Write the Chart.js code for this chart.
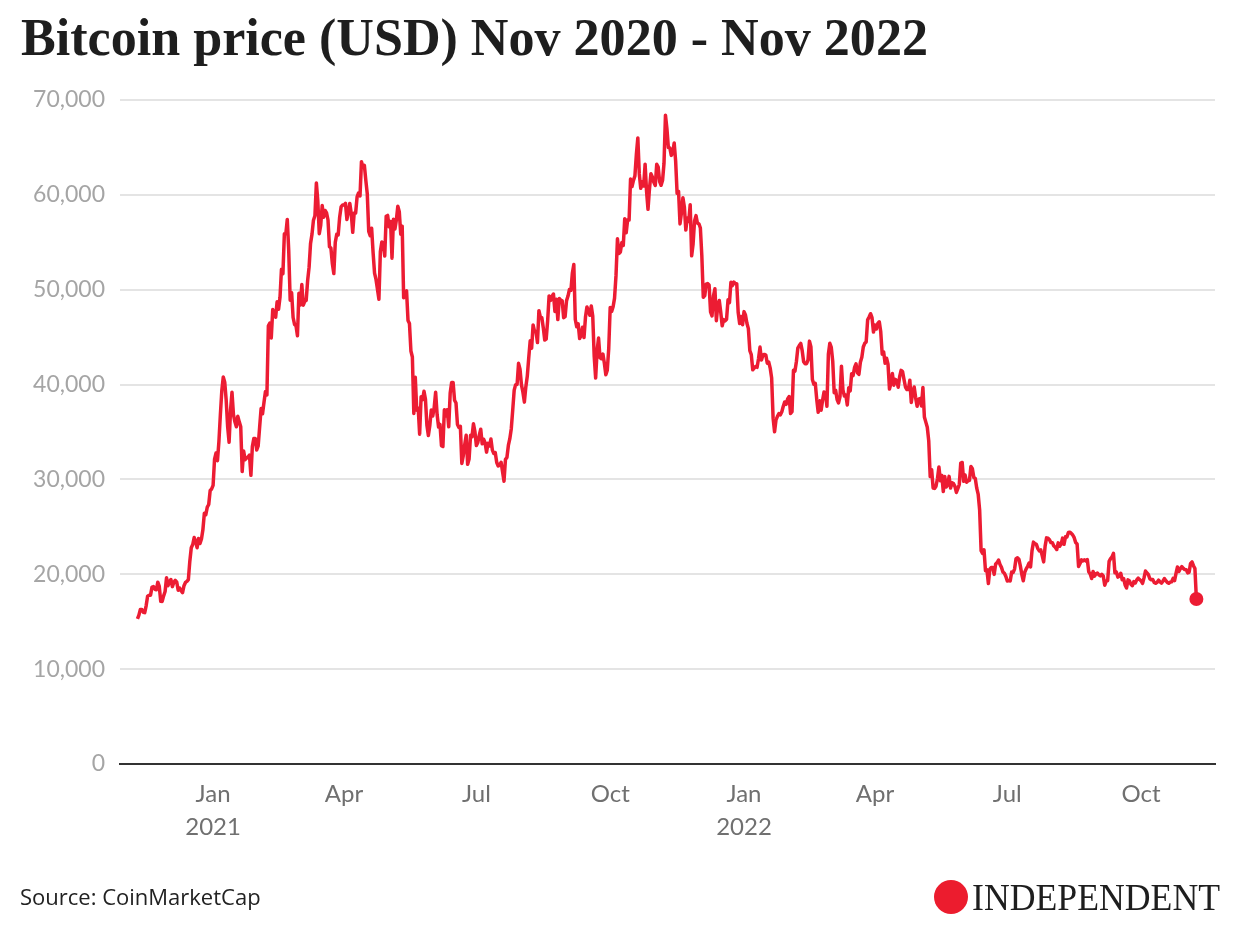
<!DOCTYPE html>
<html>
<head>
<meta charset="utf-8">
<script src="https://cdn.jsdelivr.net/npm/chart.js@4"></script>
<style>
  body { margin: 0; background: #fff; }
  #wrap { position: relative; width: 1240px; height: 940px; overflow: hidden; }
  #chart { position: absolute; left: 0; top: 0; }
  .title { position: absolute; left: 21px; top: 8px; font-family: "Liberation Serif", serif; font-weight: bold; font-size: 52px; color: #1e1e1e; white-space: nowrap; transform-origin: 0 0; }
  .source { position: absolute; left: 20px; top: 881px; font-family: "Open Sans", sans-serif; font-size: 22px; color: #222; }
  .logo { position: absolute; left: 934px; top: 879px; height: 36px; }
  .logo .dot { position: absolute; left: 0; top: 1px; width: 34px; height: 34px; border-radius: 50%; background: #ec1c2e; }
  .logo .word { position: absolute; left: 38px; top: -4px; font-family: "Liberation Serif", serif; font-size: 38px; color: #1e1e1e; white-space: nowrap; transform-origin: 0 0; }
</style>
</head>
<body>
<div id="wrap">
  <canvas id="chart" width="1240" height="940"></canvas>
  <div class="title" id="title">Bitcoin price (USD) Nov 2020 - Nov 2022</div>
  <div class="source">Source: CoinMarketCap</div>
  <div class="logo"><div class="dot"></div><div class="word" id="word">INDEPENDENT</div></div>
</div>
<script>
// daily prices, first value is 10 Nov 2020
const firstDay = -52; // days from 1 Jan 2021

const nov2020 = [15300,15700,16300,16300,16000,15950,16700,17700,17800,17800,18650,18700,18420,18370,19170,18720,17150,17140,17720,18180,19630];
const dec2020 = [18800,19210,19450,18700,19150,19360,19170,18320,18550,18260,18060,18800,19140,19250,19440,21380,22800,23140,23870,23480,22800,23780,23240,23730,24710,26440,26280,27080,27360,28840,29000];
const jan2021 = [29370,32130,32780,31970,33990,36820,39370,40800,40250,38360,35570,33920,37320,39190,36830,36070,35550,36650,36070,35550,30830,32990,32080,32260,32370,32570,30430,33470,34320,34320,33110];
const feb2021 = [33540,35510,37470,36930,38140,39270,38900,46200,46480,44920,47910,47500,47100,48720,47940,49200,52150,51680,55890,55890,57410,54090,48890,49680,47070,46340,46190,45140];
const mar2021 = [49630,48380,50540,48370,48760,48880,50970,52380,54880,55860,57330,57800,61250,59330,55900,56800,58870,57650,58350,58090,57350,54530,54390,52730,51700,55000,55840,55780,57630,58730,58920];
const apr2021 = [58920,59100,57400,58200,59100,58000,56050,58100,58090,59790,60200,59890,63500,62970,63110,61530,60110,56150,55690,56470,53910,51760,51090,50050,49000,54020,55030,54820,53560,57750];
const may2021 = [57830,56630,57200,53330,57420,56400,57360,58800,58230,55860,56700,49150,49720,49880,46760,46430,43540,42910,36960,40780,37300,37530,34770,38710,38400,39290,38440,35700,34620,35680,37330];
const jun2021 = [36680,37570,39190,36870,35520,35800,33560,33470,37350,36700,37340,35550,39100,40220,40220,38350,38050,35790,35480,35600,31680,32510,33680,34660,31590,32160,34650,34500,35870,35040];
const jul2021 = [33570,33900,34670,35290,33750,34240,33860,32880,33800,33520,34260,33090,32730,32820,31780,31420,31530,31800,30820,29810,32110,32310,33580,34290,35350,37340,39410,39990,40010,42240,41630];
const aug2021 = [39970,39200,38150,39750,40870,42820,44610,43830,46290,45600,45590,44430,47790,47100,47050,46000,44700,44800,46720,49340,48870,49290,49550,47710,48990,46850,49070,48900,48830,47050,47170];
const sep2021 = [48850,49330,50030,49940,51770,52660,46860,46090,46400,44850,45170,46050,44960,47090,48180,47780,47310,48290,47240,43000,40690,43570,44900,42840,42720,43210,42240,41030,41520,43790];
const oct2021 = [48120,47710,48200,49110,51510,55360,53810,53970,54970,54660,57490,56010,57370,57350,61670,60880,61530,62000,64280,66000,62210,60690,61390,60930,63230,60360,58480,60620,62230,61890,61320];
const nov2021 = [61000,63230,62930,61400,61010,61530,63330,68400,66970,64990,64950,64160,64470,65470,63560,60160,60370,56940,58120,59700,58730,56290,57570,57210,58960,53570,54820,57250,57810,57010];
const dec2021 = [56950,56500,53580,49200,49370,50580,50640,50500,47670,47240,49360,50100,46740,48380,48860,47630,46200,46850,46710,46880,48940,48630,50780,50430,50810,50640,50640,47590,46440,47180,46310];
const jan2022 = [47690,47340,46460,45900,43570,43160,41560,41730,41910,41820,42740,43950,42590,43100,43180,43110,42250,42370,41740,40680,36460,35030,36280,36650,36950,36810,37140,37720,38170,37920,38480];
const feb2022 = [38740,36950,37150,41500,41410,42410,43840,44120,44340,43570,42410,42200,42200,42590,44580,43960,40540,40030,40120,38430,37080,38290,37300,38330,39210,39110,37710,43190];
const mar2022 = [44350,43920,42450,39140,39400,38420,38060,38740,41940,39440,38790,38900,37850,39670,39340,41140,40950,41800,42190,41250,41080,42360,42890,43960,44350,44500,46820,47130,47470,47060,45540];
const apr2022 = [46280,45860,46450,46620,45560,43210,43440,42250,42770,42160,39530,40130,41170,39940,40550,40420,39720,40830,41500,41370,40530,39740,39470,39470,40460,38120,39240,39740,38600,37710];
const may2022 = [38470,38530,37750,39690,36580,36040,35500,34060,30300,31020,29100,29050,29280,30100,31310,29860,30420,28720,30310,29200,29430,30320,29100,29650,29560,29270,28630,29030,29470,31730,31790];
const jun2022 = [29800,30470,29700,29860,29910,31370,31130,30210,30110,29080,28420,26760,22490,22210,22570,20380,20470,19020,20550,20720,20710,19990,21090,21230,21500,21030,20730,20250,20100,19780];
const jul2022 = [19300,19330,19300,20230,20190,20550,21640,21730,21590,20860,19970,19320,20210,20570,20840,21190,20780,22490,23390,23230,23160,22710,22470,22580,21970,21310,22950,23840,23800,23640,23340];
const aug2022 = [23320,22980,22850,22610,23310,22950,23180,23810,23160,23950,23930,24400,24440,24310,24140,23860,23340,23190,20830,21140,21520,21400,21530,21400,21560,20260,20040,19550,20300,19800,20050];
const sep2022 = [20130,19950,19830,20000,19800,18840,19290,19320,21360,21650,21830,22210,20160,20230,19700,19800,20110,19420,19540,18880,18550,19410,19300,18930,18800,19230,19080,19410,19590,19430];
const oct2022 = [19310,19040,19620,20340,20160,19960,19530,19420,19450,19140,19050,19160,19380,19190,19070,19270,19550,19330,19140,19050,19170,19210,19570,19330,20100,20770,20290,20600,20810,20630,20500];
const nov2022 = [20480,20150,20210,21150,21300,20910,20600,17400];

const prices = [].concat(nov2020, dec2020, jan2021, feb2021, mar2021, apr2021, may2021, jun2021,
  jul2021, aug2021, sep2021, oct2021, nov2021, dec2021, jan2022, feb2022, mar2022, apr2022,
  may2022, jun2022, jul2022, aug2022, sep2022, oct2022, nov2022);

// x ticks: days from 1 Jan 2021
const tickDays = [0, 90, 181, 273, 365, 455, 546, 638];
const tickLabels = [['Jan', '2021'], 'Apr', 'Jul', 'Oct', ['Jan', '2022'], 'Apr', 'Jul', 'Oct'];
const yTicks = [0, 10000, 20000, 30000, 40000, 50000, 60000, 70000];

const points = prices.map((p, i) => ({ x: firstDay + i, y: p }));
const lastIdx = prices.length - 1;
const red = '#ec1c33';

new Chart(document.getElementById('chart'), {
  type: 'line',
  data: {
    datasets: [{
      data: points,
      borderColor: red,
      backgroundColor: red,
      borderWidth: 3.5,
      borderJoinStyle: 'round',
      tension: 0,
      pointRadius: ctx => ctx.dataIndex === lastIdx ? 7 : 0,
      pointBorderWidth: 0,
      pointHoverRadius: 0
    }]
  },
  options: {
    responsive: false,
    animation: false,
    devicePixelRatio: 1,
    layout: { padding: { top: 100, right: 25, bottom: 0, left: 0 } },
    plugins: { legend: { display: false }, tooltip: { enabled: false } },
    scales: {
      x: {
        type: 'linear',
        min: -64,
        max: 688.8,
        afterFit: s => { s.height = 176; },
        afterBuildTicks: s => { s.ticks = tickDays.map(v => ({ value: v })); },
        grid: { display: false },
        border: { display: true, color: '#333', width: 2 },
        ticks: {
          autoSkip: false,
          maxRotation: 0,
          padding: 5,
          color: '#707070',
          font: { family: 'Lato', size: 24, lineHeight: 1.4 },
          callback: (v, i) => tickLabels[i]
        }
      },
      y: {
        min: 0,
        max: 70000,
        afterFit: s => { s.width = 120; },
        afterBuildTicks: s => { s.ticks = yTicks.map(v => ({ value: v })); },
        grid: { color: '#e4e4e4', lineWidth: 2, drawTicks: false },
        border: { display: false },
        ticks: {
          padding: 15,
          color: '#a5a5a5',
          font: { family: 'Lato', size: 23 },
          callback: v => v.toLocaleString('en-US')
        }
      }
    }
  }
});

// squeeze the serif texts to the condensed widths of the original
function fitWidth(id, w) {
  const el = document.getElementById(id);
  el.style.transform = 'scaleX(' + (w / el.getBoundingClientRect().width) + ')';
}
fitWidth('title', 907);
fitWidth('word', 248);
</script>
</body>
</html>
